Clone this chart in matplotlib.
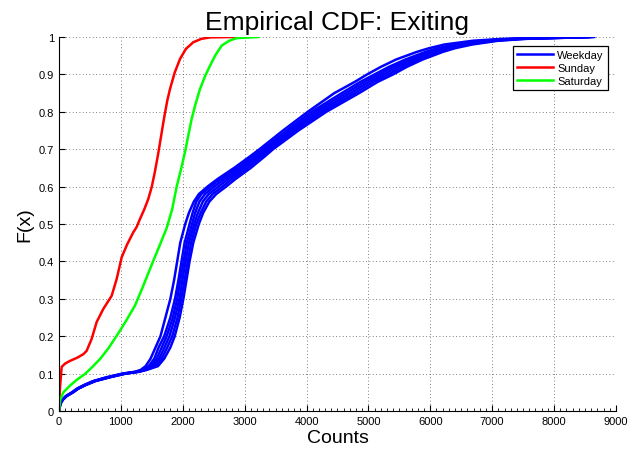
import matplotlib
matplotlib.use('Agg')
import matplotlib.pyplot as plt
from matplotlib.ticker import MultipleLocator

plt.rcParams['font.family'] = ['Liberation Sans', 'DejaVu Sans']

# Cumulative probability levels shared by the weekday curves
wk_F = [0, 0.01, 0.02, 0.03, 0.04, 0.05, 0.06, 0.07, 0.08, 0.09, 0.1,
        0.105, 0.11, 0.12, 0.14, 0.17, 0.2, 0.25, 0.3, 0.35, 0.4, 0.45, 0.5,
        0.53, 0.56, 0.58, 0.6, 0.62, 0.65, 0.68, 0.7, 0.75, 0.8, 0.85, 0.88,
        0.9, 0.92, 0.94, 0.96, 0.97, 0.98, 0.99, 0.995, 1.0]

# Counts at each level, one list per weekday
wk_A = [0, 8, 20, 50, 110, 210, 290, 410, 550, 760, 1020,
        1230, 1320, 1400, 1480, 1560, 1640, 1720, 1800, 1860, 1910, 1960, 2040,
        2100, 2180, 2260, 2400, 2560, 2830, 3080, 3240, 3620, 4020, 4450, 4780,
        4980, 5200, 5450, 5780, 5980, 6230, 6690, 7150, 8550]
wk_B1 = [0, 9, 22, 55, 115, 215, 300, 420, 560, 780, 1040,
         1250, 1340, 1450, 1540, 1610, 1700, 1800, 1875, 1930, 1980, 2030, 2110,
         2160, 2220, 2300, 2450, 2610, 2880, 3130, 3290, 3680, 4080, 4570, 4870,
         5100, 5330, 5600, 5920, 6110, 6400, 6850, 7300, 8500]
wk_B2 = [0, 9, 23, 57, 118, 220, 305, 425, 570, 790, 1050,
         1262, 1360, 1490, 1580, 1660, 1740, 1840, 1910, 1960, 2015, 2065, 2150,
         2200, 2270, 2360, 2510, 2670, 2935, 3180, 3330, 3730, 4140, 4640, 4940,
         5175, 5400, 5670, 5990, 6180, 6470, 6910, 7360, 8540]
wk_B3 = [0, 10, 24, 58, 120, 222, 308, 430, 575, 800, 1060,
         1275, 1380, 1525, 1620, 1705, 1785, 1875, 1945, 1995, 2045, 2100, 2185,
         2245, 2325, 2420, 2575, 2730, 2990, 3225, 3375, 3775, 4200, 4710, 5010,
         5250, 5475, 5740, 6060, 6255, 6540, 6975, 7425, 8580]
wk_B4 = [0, 10, 25, 60, 122, 225, 310, 435, 580, 810, 1070,
         1288, 1400, 1565, 1660, 1750, 1830, 1915, 1975, 2030, 2080, 2135, 2220,
         2290, 2380, 2480, 2640, 2790, 3045, 3270, 3420, 3820, 4260, 4780, 5080,
         5325, 5550, 5810, 6130, 6330, 6610, 7040, 7490, 8620]
wk_B5 = [0, 11, 26, 62, 125, 230, 315, 440, 590, 820, 1080,
         1300, 1420, 1600, 1700, 1800, 1870, 1950, 2010, 2060, 2110, 2170, 2260,
         2330, 2430, 2540, 2700, 2850, 3100, 3320, 3460, 3870, 4320, 4850, 5150,
         5400, 5620, 5880, 6200, 6400, 6680, 7100, 7550, 8650]
weekdays = [wk_A, wk_B1, wk_B2, wk_B3, wk_B4, wk_B5]

# Sunday
sun_x = [0, 15, 43, 100, 178, 300, 393, 447, 528, 609, 716, 851, 932, 1013, 1100, 1201,
         1255, 1300, 1380, 1443, 1500, 1550, 1600, 1650, 1700, 1750, 1794, 1870, 1955,
         2050, 2170, 2300, 2440, 2844]
sun_F = [0, 0.06, 0.118, 0.127, 0.134, 0.143, 0.152, 0.161, 0.193, 0.238, 0.273, 0.308,
         0.353, 0.411, 0.445, 0.478, 0.492, 0.51, 0.54, 0.567, 0.6, 0.64, 0.685, 0.735,
         0.785, 0.83, 0.861, 0.905, 0.941, 0.968, 0.986, 0.995, 0.999, 1.0]

# Saturday
sat_x = [0, 20, 70, 178, 300, 420, 540, 663, 800, 932, 1080, 1228, 1350, 1471, 1600, 1740,
         1830, 1902, 1970, 2036, 2090, 2144, 2210, 2279, 2360, 2440, 2530, 2629, 2750, 2871, 3221]
sat_F = [0, 0.03, 0.05, 0.068, 0.085, 0.099, 0.118, 0.139, 0.168, 0.201, 0.24, 0.282, 0.33,
         0.38, 0.432, 0.489, 0.54, 0.6, 0.645, 0.692, 0.737, 0.781, 0.823, 0.861, 0.895,
         0.923, 0.952, 0.977, 0.99, 0.997, 1.0]

x_ticks = [0, 1000, 2000, 3000, 4000, 5000, 6000, 7000, 8000, 9000]
y_ticks = [0, 0.1, 0.2, 0.3, 0.4, 0.5, 0.6, 0.7, 0.8, 0.9, 1]
y_labels = ['0', '0.1', '0.2', '0.3', '0.4', '0.5', '0.6', '0.7', '0.8', '0.9', '1']

fig = plt.figure(figsize=(6.33, 4.6), dpi=100)
ax = fig.add_axes([0.0932, 0.1043, 0.8798, 0.8131])

lw = 1.8
for i, wx in enumerate(weekdays):
    ax.plot(wx, wk_F, color=(0, 0, 1), lw=lw, label='Weekday' if i == 0 else None)
ax.plot(sun_x, sun_F, color=(1, 0, 0), lw=lw, label='Sunday')
ax.plot(sat_x, sat_F, color=(0, 1, 0), lw=lw, label='Saturday')

ax.set_xlim(0, 9000)
ax.set_ylim(0, 1)
ax.set_xticks(x_ticks)
ax.set_yticks(y_ticks)
ax.set_yticklabels(y_labels)
ax.xaxis.set_minor_locator(MultipleLocator(100))
ax.tick_params(which='both', direction='in', labelsize=8, top=False, right=False)
ax.tick_params(which='major', length=4)
ax.tick_params(which='minor', length=2)
ax.spines['top'].set_visible(False)
ax.spines['right'].set_visible(False)
ax.grid(True, which='major', linestyle=(0, (1, 3)), color='#555555', lw=0.6)

ax.set_title('Empirical CDF: Exiting', fontsize=19, pad=6)
ax.set_xlabel('Counts', fontsize=14, labelpad=2)
ax.set_ylabel('F(x)', fontsize=14, labelpad=4)

leg = ax.legend(loc='upper right', fontsize=8, fancybox=False, framealpha=1,
                edgecolor='black', handlelength=3.2, borderpad=0.35, labelspacing=0.25,
                handletextpad=0.4, bbox_to_anchor=(0.995, 0.99))
leg.get_frame().set_linewidth(0.9)

fig.savefig('out.png', dpi=100)
